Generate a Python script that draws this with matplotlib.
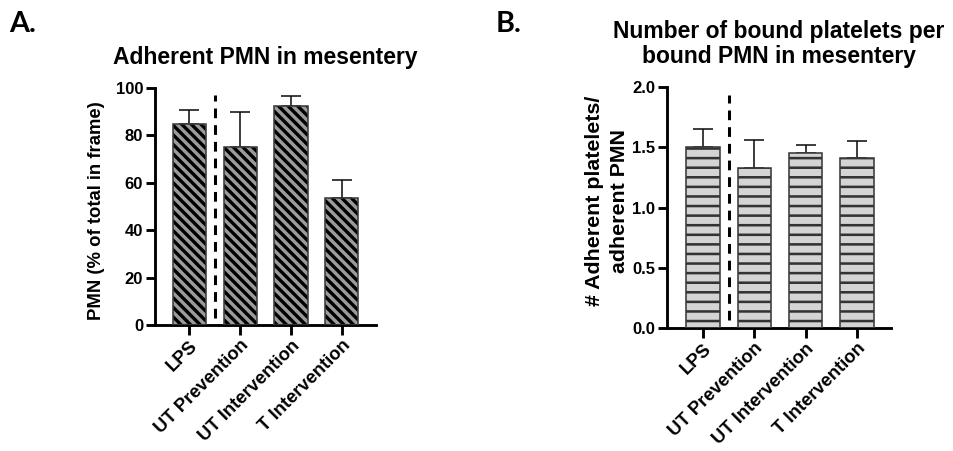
import matplotlib
matplotlib.use("Agg")
import matplotlib.pyplot as plt
import numpy as np

# Groups shown on both panels
groups = ["LPS", "UT Prevention", "UT Intervention", "T Intervention"]

# Panel A: adherent PMN (% of total in frame), mean and upper SEM
pmn_mean = [85.0, 75.2, 92.3, 53.6]
pmn_err = [5.8, 14.6, 4.3, 7.5]

# Panel B: bound platelets per bound PMN, mean and upper SEM
plt_mean = [1.50, 1.33, 1.45, 1.41]
plt_err = [0.15, 0.23, 0.07, 0.14]

DPI = 115
plt.rcParams["font.family"] = ["Liberation Sans", "DejaVu Sans"]
plt.rcParams["font.weight"] = "bold"

fig = plt.figure(figsize=(954 / DPI, 451 / DPI), dpi=DPI)
ax_a = fig.add_axes([0.1625, 0.2794, 0.2317, 0.5255])
ax_b = fig.add_axes([0.6992, 0.2727, 0.2348, 0.5344])

x = np.arange(len(groups))
bar_w = 0.65


def draw_panel(ax, means, errs, face, hatch, hatch_color, hatch_lw, edge):
    with plt.rc_context({"hatch.linewidth": hatch_lw}):
        fill = ax.bar(x, means, width=bar_w, color=face, edgecolor=hatch_color,
                      hatch=hatch, linewidth=0, zorder=2)
    for p in fill:
        if hasattr(p, "set_hatch_linewidth"):
            p.set_hatch_linewidth(hatch_lw)
    ax.bar(x, means, width=bar_w, fill=False, edgecolor=edge, linewidth=1.0, zorder=3)
    ax.errorbar(x, means, yerr=[np.zeros(len(errs)), errs], fmt="none",
                ecolor="#111111", elinewidth=1.0, capsize=6.5, capthick=1.0, zorder=1)
    for side in ("top", "right"):
        ax.spines[side].set_visible(False)
    for side in ("left", "bottom"):
        ax.spines[side].set_linewidth(1.8)
    ax.tick_params(axis="y", width=1.8, length=5.5, color="black", labelsize=10.4, pad=2)
    ax.tick_params(axis="x", width=1.8, length=6.5, color="black", labelsize=11.5, pad=1)
    ax.set_xticks(x)
    ax.set_xticklabels(groups, rotation=45, ha="right", va="top", rotation_mode="anchor",
                       fontweight="bold")
    for lab in ax.get_yticklabels():
        lab.set_fontweight("bold")


# Panel A
draw_panel(ax_a, pmn_mean, pmn_err, "#9b9b9b", "\\\\\\\\", "#000000", 2.1, "#3c3c3c")
ax_a.set_xlim(-0.67, 3.67)
ax_a.set_ylim(0, 100)
ax_a.set_yticks([0, 20, 40, 60, 80, 100])
ax_a.plot([0.5, 0.5], [3, 97], color="black", lw=1.9, ls=(0, (3.2, 2.3)),
          solid_capstyle="butt", zorder=4)
ax_a.set_ylabel("PMN (% of total in frame)", fontsize=11.6, fontweight="bold")
ax_a.yaxis.set_label_coords(-0.226, 0.483)
ax_a.set_title("Adherent PMN in mesentery", fontsize=14.3, fontweight="bold", pad=15)

# Panel B
draw_panel(ax_b, plt_mean, plt_err, "#d4d4d4", "--", "#333333", 1.6, "#3a3a3a")
ax_b.set_xlim(-0.7, 3.66)
ax_b.set_ylim(0, 2.0)
ax_b.set_yticks([0.0, 0.5, 1.0, 1.5, 2.0])
ax_b.set_yticklabels(["0.0", "0.5", "1.0", "1.5", "2.0"])
for lab in ax_b.get_yticklabels():
    lab.set_fontweight("bold")
ax_b.plot([0.5, 0.5], [0.07, 1.93], color="black", lw=1.9, ls=(0, (3.2, 2.3)),
          solid_capstyle="butt", zorder=4)
ax_b.set_ylabel("# Adherent platelets/\nadherent PMN", fontsize=13.4, fontweight="bold",
                linespacing=1.4)
ax_b.yaxis.set_label_coords(-0.17, 0.529)
ax_b.set_title("Number of bound platelets per\nbound PMN in mesentery", fontsize=14.3,
               fontweight="bold", pad=15, linespacing=1.1)

# Panel letters
fig.text(9 / 954, 1 - 32 / 451, "A.", fontsize=18, fontweight="bold",
         family=["Lato", "DejaVu Sans"], va="baseline", ha="left")
fig.text(496 / 954, 1 - 32 / 451, "B.", fontsize=18, fontweight="bold",
         family=["Lato", "DejaVu Sans"], va="baseline", ha="left")

fig.savefig("out.png", dpi=DPI)
